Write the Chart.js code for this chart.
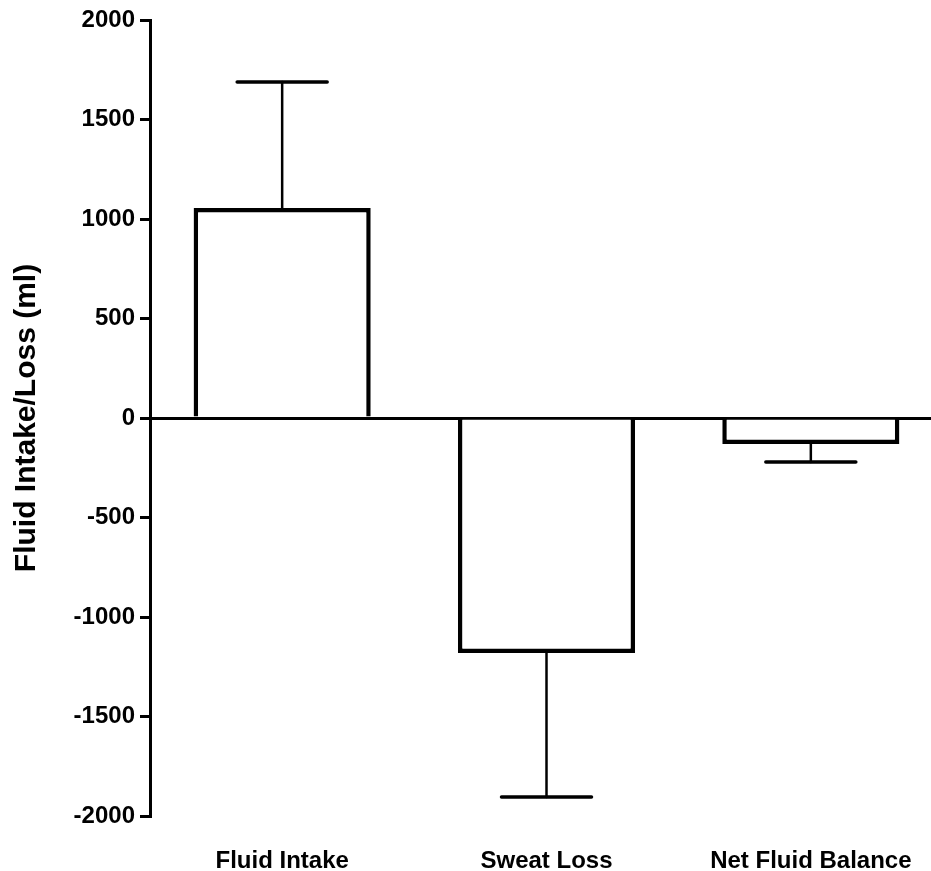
<!DOCTYPE html>
<html>
<head>
<meta charset="utf-8">
<script src="https://cdn.jsdelivr.net/npm/chart.js@4/dist/chart.umd.min.js"></script>
<style>
    html, body { margin: 0; padding: 0; background: #fff; overflow: hidden; }
    #wrap { width: 960px; height: 871px; }
</style>
</head>
<body>
<div id="wrap"><canvas id="chart"></canvas></div>
<script>
const categories = ['Fluid Intake', 'Sweat Loss', 'Net Fluid Balance'];
const means = [1055, -1181, -131];
const errors = [633, 724, 90];
const yMin = -2000;
const yMax = 2000;
const yStep = 500;

const fontFamily = '"Liberation Sans", Arial, sans-serif';

// error bars drawn away from zero, in the direction of the mean
const errorBars = {
    id: 'errorBars',
    afterDatasetsDraw(chart) {
        const { ctx } = chart;
        const yScale = chart.scales.y;
        const meta = chart.getDatasetMeta(0);
        ctx.save();
        ctx.strokeStyle = '#000';
        ctx.lineCap = 'round';
        meta.data.forEach((bar, i) => {
            const sign = means[i] < 0 ? -1 : 1;
            const yFrom = yScale.getPixelForValue(means[i]);
            const yTo = yScale.getPixelForValue(means[i] + sign * errors[i]);
            ctx.lineWidth = 2.5;
            ctx.beginPath();
            ctx.moveTo(bar.x, yFrom);
            ctx.lineTo(bar.x, yTo);
            ctx.stroke();
            ctx.lineWidth = 3.5;
            ctx.beginPath();
            ctx.moveTo(bar.x - 45, yTo);
            ctx.lineTo(bar.x + 45, yTo);
            ctx.stroke();
        });
        ctx.restore();
    }
};

new Chart(document.getElementById('chart'), {
    type: 'bar',
    data: {
        labels: categories,
        datasets: [{
            data: means,
            backgroundColor: '#fff',
            borderColor: '#000',
            borderWidth: 4.5,
            barPercentage: 0.67,
            categoryPercentage: 1
        }]
    },
    options: {
        responsive: true,
        maintainAspectRatio: false,
        animation: false,
        layout: { padding: { left: 0, right: 17, top: 20, bottom: 0 } },
        plugins: {
            legend: { display: false },
            tooltip: { enabled: false }
        },
        scales: {
            x: {
                grid: { display: false, drawTicks: false },
                border: { display: false },
                ticks: {
                    color: '#000',
                    padding: 31,
                    maxRotation: 0,
                    font: { family: fontFamily, size: 24, weight: 'bold' }
                },
                afterFit(scale) { scale.height = 55; }
            },
            y: {
                min: yMin,
                max: yMax,
                border: { display: true, color: '#000', width: 3 },
                grid: {
                    color: (c) => (c.tick && c.tick.value === 0 ? '#000' : 'rgba(0,0,0,0)'),
                    lineWidth: 3,
                    drawTicks: true,
                    tickLength: 10,
                    tickColor: '#000',
                    tickWidth: 3
                },
                ticks: {
                    stepSize: yStep,
                    color: '#000',
                    padding: 5,
                    callback: (v) => String(v),
                    font: { family: fontFamily, size: 24, weight: 'bold' }
                },
                title: {
                    display: true,
                    text: 'Fluid Intake/Loss (ml)',
                    color: '#000',
                    padding: { top: 9, bottom: 0 },
                    font: { family: fontFamily, size: 30, weight: 'bold' }
                },
                afterFit(scale) { scale.width = 150; }
            }
        }
    },
    plugins: [errorBars]
});
</script>
</body>
</html>
